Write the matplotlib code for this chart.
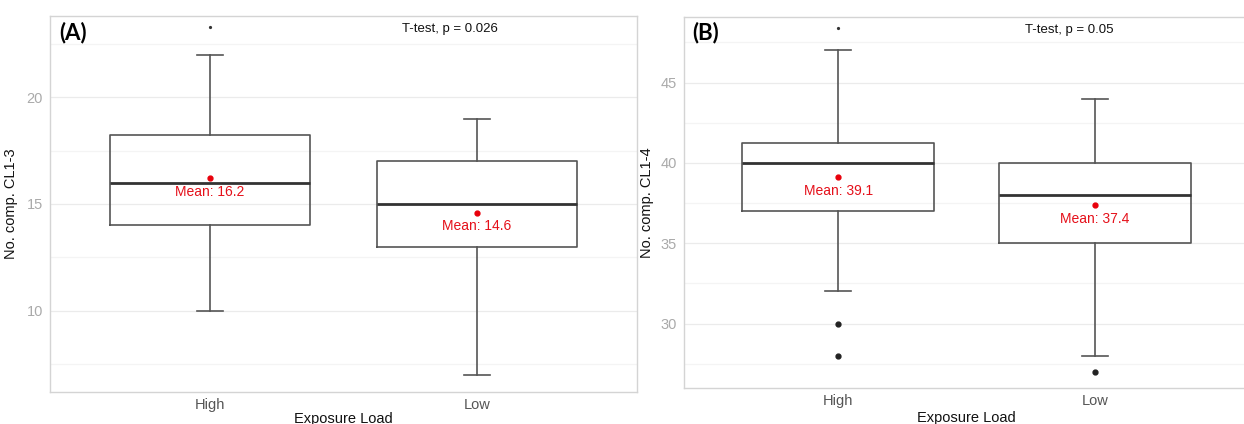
import numpy as np
import matplotlib.pyplot as plt
from matplotlib.ticker import MultipleLocator

plt.rcParams['font.family'] = ['Liberation Sans', 'DejaVu Sans']

groups = ["High", "Low"]

# panel A: No. comp. CL1-3
a_whislo = [10, 7]
a_q1 = [14, 13]
a_med = [16, 15]
a_q3 = [18.25, 17]
a_whishi = [22, 19]
a_fliers = [[], []]
a_small = [[23.3], []]
a_means = [16.2, 14.6]
a_p = "0.026"

# panel B: No. comp. CL1-4
b_whislo = [32, 28]
b_q1 = [37, 35]
b_med = [40, 38]
b_q3 = [41.25, 40]
b_whishi = [47, 44]
b_fliers = [[30, 28], [27]]
b_small = [[48.4], []]
b_means = [39.1, 37.4]
b_p = "0.05"


def panel(ax, tag, ylabel, whislo, q1, med, q3, whishi, fliers, small, means, p, ylim, major):
    stats = []
    for i in range(len(groups)):
        stats.append(dict(whislo=whislo[i], q1=q1[i], med=med[i], q3=q3[i],
                          whishi=whishi[i], fliers=fliers[i], label=groups[i]))
    pos = np.arange(1, len(groups) + 1)
    ax.bxp(stats, positions=pos, widths=0.75, capwidths=0.1, showfliers=True,
           boxprops=dict(color='#555555', lw=1.2),
           whiskerprops=dict(color='#555555', lw=1.2),
           capprops=dict(color='#555555', lw=1.2),
           medianprops=dict(color='#333333', lw=2.0),
           flierprops=dict(marker='o', markerfacecolor='#222222', markeredgecolor='#222222',
                           markersize=3.5, linestyle='none'))
    for i, s in enumerate(small):
        if s:
            ax.plot([pos[i]] * len(s), s, 'o', color='#333333', markersize=1.3)
    ax.plot(pos, means, 'o', color='#E8000B', markersize=3.5, zorder=5)
    for x, m in zip(pos, means):
        ax.annotate(f"Mean: {m}", (x, m), xytext=(0, -10), textcoords='offset points',
                    ha='center', va='center', color='#E5101A', fontsize=10)
    ax.set_xlim(0.4, 2.6)
    ax.set_ylim(*ylim)
    ax.yaxis.set_major_locator(MultipleLocator(major))
    ax.yaxis.set_minor_locator(MultipleLocator(major / 2))
    ax.grid(True, axis='y', which='major', color='#EBEBEB', lw=0.9)
    ax.grid(True, axis='y', which='minor', color='#F4F4F4', lw=0.9)
    ax.set_axisbelow(True)
    ax.tick_params(axis='y', which='both', length=0, labelsize=10.5, labelcolor='#AAAAAA', pad=5)
    ax.tick_params(axis='x', length=0, labelsize=10.5, labelcolor='#555555', pad=4)
    for sp in ax.spines.values():
        sp.set_color('#D4D4D4')
        sp.set_linewidth(1.0)
    ax.set_xticks(pos)
    ax.set_xticklabels(groups)
    ax.set_ylabel(ylabel, fontsize=10.5, color='#111111')
    ax.set_xlabel("Exposure Load", fontsize=10.5, color='#111111')
    ax.text(1.9, 0.965, f"T-test, p = {p}", transform=ax.get_xaxis_transform(),
            ha='center', va='center', fontsize=9.5, color='#111111')
    ax.text(0.015, 0.957, tag, transform=ax.transAxes, ha='left', va='center',
            fontsize=16, fontweight='bold', family=['Lato', 'DejaVu Sans'])


fig = plt.figure(figsize=(12.44, 4.24), dpi=100)
W, H = 1244, 424
ax1 = fig.add_axes([50 / W, (H - 392) / H, 587 / W, 376 / H])
ax2 = fig.add_axes([684 / W, (H - 388) / H, 565 / W, 371 / H])

panel(ax1, "(A)", "No. comp. CL1-3", a_whislo, a_q1, a_med, a_q3, a_whishi,
      a_fliers, a_small, a_means, a_p, (6.19, 23.81), 5)
panel(ax2, "(B)", "No. comp. CL1-4", b_whislo, b_q1, b_med, b_q3, b_whishi,
      b_fliers, b_small, b_means, b_p, (25.99, 49.08), 5)

ax1.yaxis.set_label_coords(-0.055, 0.5)
ax1.xaxis.set_label_coords(0.5, -0.052)
ax2.yaxis.set_label_coords(-0.053, 0.5)
ax2.xaxis.set_label_coords(0.5, -0.062)

fig.savefig("out.png", dpi=100)
